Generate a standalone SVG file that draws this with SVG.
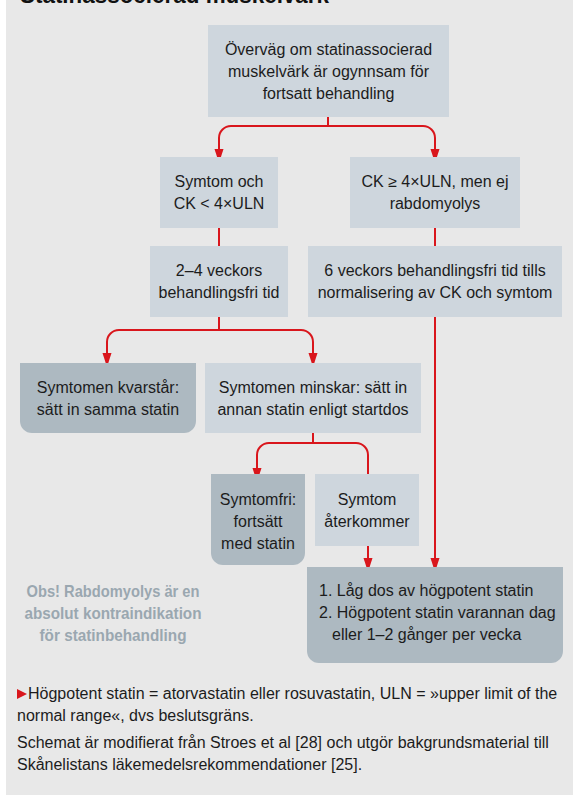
<svg xmlns="http://www.w3.org/2000/svg" width="573" height="795" viewBox="0 0 573 795">
<style>
  .t{font-family:"Liberation Sans",Arial,sans-serif;font-size:16px;fill:#1c1c1c;text-anchor:middle}
  .l{text-anchor:start}
  .box{fill:#ced6dd}
  .dark{fill:#adb9c1}
  .c{fill:none;stroke:#d9161c;stroke-width:2}
  .ah{fill:#d9161c}
  .obs{font-family:"Liberation Sans",Arial,sans-serif;font-size:16.5px;font-weight:bold;fill:#9aa7b0;text-anchor:middle}
  .f{font-family:"Liberation Sans",Arial,sans-serif;font-size:16px;fill:#1c1c1c}
  .title{font-family:"Liberation Sans",Arial,sans-serif;font-size:24px;font-weight:bold;fill:#111}
</style>
<rect x="0" y="0" width="573" height="795" fill="#ffffff"/>
<rect x="6" y="0" width="567" height="795" fill="#e8e8e8"/>
<text class="title" x="20" y="3" textLength="309" lengthAdjust="spacingAndGlyphs">Statinassocierad muskelvärk</text>

<g id="connectors">
  <path class="c" d="M328,117 V126 H231 A12,12 0 0 0 219,138 V150"/>
  <path class="c" d="M328,126 H423 A12,12 0 0 1 435,138 V150"/>
  <path class="ah" d="M214.5,149 L223.5,149 L219,163 z"/>
  <path class="ah" d="M430.5,149 L439.5,149 L435,163 z"/>
  <path class="c" d="M219,228 V246"/>
  <path class="c" d="M435,228 V246"/>
  <path class="c" d="M435,317 V560"/>
  <path class="ah" d="M430.5,558 L439.5,558 L435,572 z"/>
  <path class="c" d="M219,317 V330 H119 A12,12 0 0 0 107,342 V354"/>
  <path class="c" d="M219,330 H301 A12,12 0 0 1 313,342 V354"/>
  <path class="ah" d="M102.5,353 L111.5,353 L107,367 z"/>
  <path class="ah" d="M308.5,353 L317.5,353 L313,367 z"/>
  <path class="c" d="M313,433 V443 H269 A12,12 0 0 0 257,455 V469"/>
  <path class="c" d="M313,443 H356 A12,12 0 0 1 368,455 V475"/>
  <path class="ah" d="M252.5,468 L261.5,468 L257,482 z"/>
  <path class="c" d="M368,546 V560"/>
  <path class="ah" d="M363.5,558 L372.5,558 L368,572 z"/>
</g>

<g id="n-start">
  <rect class="box" x="208" y="25" width="241" height="92"/>
  <text class="t" x="328.5" y="55">Överväg om statinassocierad</text>
  <text class="t" x="328.5" y="77">muskelvärk är ogynnsam för</text>
  <text class="t" x="328.5" y="99">fortsatt behandling</text>
</g>
<g id="n-symtom-ck">
  <rect class="box" x="160" y="157" width="118" height="71"/>
  <text class="t" x="219" y="187">Symtom och</text>
  <text class="t" x="219" y="209">CK &lt; 4×ULN</text>
</g>
<g id="n-ck-high">
  <rect class="box" x="350" y="157" width="170" height="71"/>
  <text class="t" x="435" y="187">CK ≥ 4×ULN, men ej</text>
  <text class="t" x="435" y="209">rabdomyolys</text>
</g>
<g id="n-2-4">
  <rect class="box" x="150" y="246" width="138" height="71"/>
  <text class="t" x="219" y="276">2–4 veckors</text>
  <text class="t" x="219" y="298">behandlingsfri tid</text>
</g>
<g id="n-6">
  <rect class="box" x="308" y="246" width="254" height="71"/>
  <text class="t" x="435" y="276">6 veckors behandlingsfri tid tills</text>
  <text class="t" x="435" y="298">normalisering av CK och symtom</text>
</g>
<g id="n-kvarstar">
  <path class="dark" d="M20,363 H196 V421 A12,12 0 0 1 184,433 H32 A12,12 0 0 1 20,421 Z"/>
  <text class="t" x="108" y="393">Symtomen kvarstår:</text>
  <text class="t" x="108" y="415">sätt in samma statin</text>
</g>
<g id="n-minskar">
  <rect class="box" x="205" y="363" width="216" height="70"/>
  <text class="t" x="313" y="393">Symtomen minskar: sätt in</text>
  <text class="t" x="313" y="415">annan statin enligt startdos</text>
</g>
<g id="n-symtomfri">
  <path class="dark" d="M211,474 H305 V553 A12,12 0 0 1 293,565 H223 A12,12 0 0 1 211,553 Z"/>
  <text class="t" x="258" y="505">Symtomfri:</text>
  <text class="t" x="258" y="527">fortsätt</text>
  <text class="t" x="258" y="549">med statin</text>
</g>
<g id="n-aterkommer">
  <rect class="box" x="315" y="474" width="104" height="72"/>
  <text class="t" x="367" y="505">Symtom</text>
  <text class="t" x="367" y="527">återkommer</text>
</g>
<g id="n-final">
  <path class="dark" d="M307,567 H563 V651 A12,12 0 0 1 551,663 H319 A12,12 0 0 1 307,651 Z"/>
  <text class="t l" x="319" y="596">1. Låg dos av högpotent statin</text>
  <text class="t l" x="319" y="618">2. Högpotent statin varannan dag</text>
  <text class="t l" x="332" y="640">eller 1–2 gånger per vecka</text>
</g>
<g id="obs">
  <text class="obs" x="113" y="597" textLength="173" lengthAdjust="spacingAndGlyphs">Obs! Rabdomyolys är en</text>
  <text class="obs" x="113" y="619" textLength="177" lengthAdjust="spacingAndGlyphs">absolut kontraindikation</text>
  <text class="obs" x="113" y="641" textLength="147" lengthAdjust="spacingAndGlyphs">för statinbehandling</text>
</g>
<g id="footer">
  <path class="ah" d="M17,689 L27,694 L17,699 z"/>
  <text class="f" x="28" y="699">Högpotent statin = atorvastatin eller rosuvastatin, ULN = »upper limit of the</text>
  <text class="f" x="17" y="721">normal range«, dvs beslutsgräns.</text>
  <text class="f" x="17" y="748">Schemat är modifierat från Stroes et al [28] och utgör bakgrundsmaterial till</text>
  <text class="f" x="17" y="770">Skånelistans läkemedelsrekommendationer [25].</text>
</g>
</svg>
